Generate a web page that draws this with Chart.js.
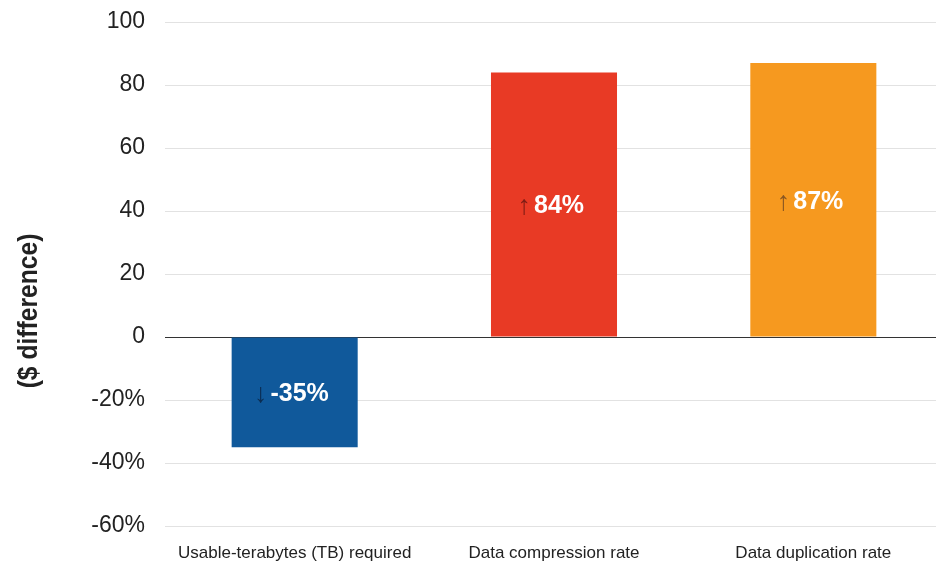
<!DOCTYPE html>
<html>
<head>
<meta charset="utf-8">
<script src="https://cdn.jsdelivr.net/npm/chart.js@4/dist/chart.umd.min.js"></script>
<style>
html,body{margin:0;padding:0;background:#fff;overflow:hidden;width:936px;height:567px;}
#wrap{width:943px;height:567px;}
</style>
</head>
<body>
<div id="wrap"><canvas id="c" width="943" height="567"></canvas></div>
<script>
const categories = ["Usable-terabytes (TB) required", "Data compression rate", "Data duplication rate"];
const values = [-35, 84, 87];
const valueLabels = ["-35%", "84%", "87%"];
const arrows = ["↓", "↑", "↑"];
const tickLabels = {"100":"100","80":"80","60":"60","40":"40","20":"20","0":"0","-20":"-20%","-40":"-40%","-60":"-60%"};
const axisTitle = "($ difference)";

const barColors = ["#10599b", "#e83a25", "#f6991f"];
const arrowColors = ["#0b2d52", "#7f1d15", "#8a5722"];
const SANS = "'Liberation Sans',Arial,sans-serif";

const labelPlugin = {
  id: 'labels',
  afterDatasetsDraw(chart) {
    const ctx = chart.ctx;
    const meta = chart.getDatasetMeta(0);
    meta.data.forEach((bar, i) => {
      const yMid = (bar.y + bar.base) / 2;
      ctx.save();
      ctx.font = "bold 25px " + SANS;
      ctx.textBaseline = 'alphabetic';
      ctx.textAlign = 'left';
      const w = ctx.measureText(valueLabels[i]).width;
      const tx = bar.x + 5 - w / 2;
      ctx.fillStyle = '#ffffff';
      ctx.fillText(valueLabels[i], tx, yMid + 9);
      ctx.font = "27px " + SANS;
      ctx.fillStyle = arrowColors[i];
      ctx.textAlign = 'right';
      ctx.fillText(arrows[i], tx - 3, yMid + 10);
      ctx.restore();
    });
    // y-axis title
    ctx.save();
    ctx.translate(29, 311);
    ctx.rotate(-Math.PI / 2);
    ctx.scale(0.88, 1);
    ctx.font = "bold 28px " + SANS;
    ctx.fillStyle = '#222';
    ctx.textAlign = 'center';
    ctx.textBaseline = 'middle';
    ctx.fillText(axisTitle, 0, 0);
    ctx.restore();
  }
};

new Chart(document.getElementById('c'), {
  type: 'bar',
  data: {
    labels: categories,
    datasets: [{
      data: values,
      backgroundColor: barColors,
      borderWidth: 0,
      barPercentage: 1,
      categoryPercentage: 0.486
    }]
  },
  options: {
    responsive: false,
    animation: false,
    events: [],
    layout: { padding: { top: 22, right: 0, left: 0, bottom: 0 } },
    plugins: { legend: { display: false }, tooltip: { enabled: false } },
    scales: {
      x: {
        grid: { display: false, drawTicks: false },
        border: { display: false },
        ticks: { color: '#222', font: { family: SANS, size: 17 }, padding: 17, maxRotation: 0, autoSkip: false },
        afterFit(s) { s.height = 41; s.paddingLeft = 0; s.paddingRight = 0; }
      },
      y: {
        min: -60, max: 100,
        grid: {
          drawTicks: false,
          color: (c) => c.tick && c.tick.value === 0 ? '#333333' : '#e2e2e2',
          lineWidth: 1
        },
        border: { display: false },
        ticks: {
          stepSize: 20,
          color: '#222',
          padding: 20,
          font: { family: SANS, size: 23 },
          callback: (v) => tickLabels[String(v)]
        },
        afterFit(s) { s.width = 165; s.paddingTop = 0; s.paddingBottom = 0; }
      }
    }
  },
  plugins: [labelPlugin]
});
</script>
</body>
</html>
